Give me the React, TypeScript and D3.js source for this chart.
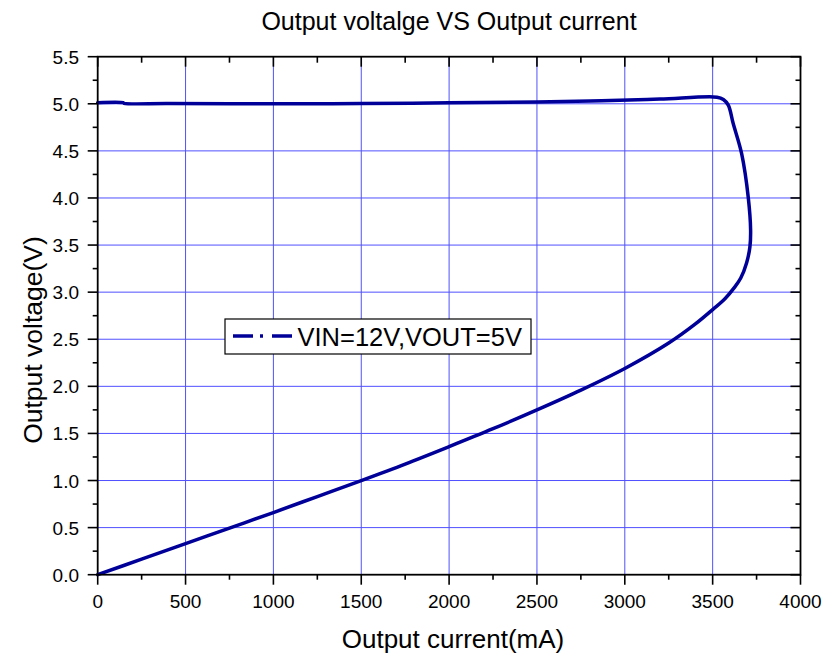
import React from "react";
import * as d3 from "d3";

const title = "Output voltalge VS Output current";
const xLabel = "Output current(mA)";
const yLabel = "Output voltage(V)";
const legendLabel = "VIN=12V,VOUT=5V";

const xTicks = [0, 500, 1000, 1500, 2000, 2500, 3000, 3500, 4000];
const yTicks = [0, 0.5, 1, 1.5, 2, 2.5, 3, 3.5, 4, 4.5, 5, 5.5];

const current = [0, 145, 150, 400, 1000, 1500, 2000, 2500, 2867, 3200, 3525, 3561, 3589, 3617, 3665, 3703, 3716, 3712, 3693, 3660, 3622, 3570, 3503, 3400, 3250, 3000, 2750, 2500, 2250, 2000, 1750, 1500, 1250, 1000, 750, 500, 250, 0];
const voltage = [5.012, 5.012, 5.005, 5.002, 5.0, 5.003, 5.01, 5.02, 5.032, 5.05, 5.07, 5.046, 4.986, 4.79, 4.47, 4.0, 3.66, 3.48, 3.31, 3.15, 3.045, 2.93, 2.82, 2.66, 2.46, 2.19, 1.96, 1.75, 1.55, 1.36, 1.175, 1.0, 0.83, 0.66, 0.495, 0.33, 0.165, 0];

const W = 827, H = 657;
const L = 97.7, R = 800.5, T = 56.7, B = 574.7;
const font = "Arial, 'Liberation Sans', sans-serif";
const gridColor = "#5050ff";
const lineColor = "#000099";

export default function App() {
  const x = d3.scaleLinear().domain([0, 4000]).range([L, R]);
  const y = d3.scaleLinear().domain([0, 5.5]).range([B, T]);
  const pts = current.map((c, i) => [c, voltage[i]] as [number, number]);
  const line = d3.line<[number, number]>().x(d => x(d[0])).y(d => y(d[1])).curve(d3.curveCatmullRom.alpha(0.5));
  const xMinor = d3.range(250, 4000, 500);
  const yMinor = d3.range(0.25, 5.5, 0.5);

  return (
    <svg width={W} height={H} style={{ position: "absolute", left: 0, top: 0, background: "#fff" }}>
      <rect x={0} y={0} width={W} height={H} fill="#fff" />
      {xTicks.slice(1, -1).map(t => (
        <line key={"gx" + t} x1={x(t)} x2={x(t)} y1={T} y2={B} stroke={gridColor} strokeWidth={1} />
      ))}
      {yTicks.slice(1, -1).map(t => (
        <line key={"gy" + t} x1={L} x2={R} y1={y(t)} y2={y(t)} stroke={gridColor} strokeWidth={1} />
      ))}
      <path d={line(pts) || ""} fill="none" stroke={lineColor} strokeWidth={3.5} strokeLinejoin="round" strokeLinecap="round" />
      <rect x={L} y={T} width={R - L} height={B - T} fill="none" stroke="#000" strokeWidth={1.8} />
      {xTicks.map(t => (
        <line key={"bt" + t} x1={x(t)} x2={x(t)} y1={B} y2={B + 10} stroke="#000" strokeWidth={1.6} />
      ))}
      {xMinor.map(t => (
        <line key={"bm" + t} x1={x(t)} x2={x(t)} y1={B} y2={B + 5} stroke="#000" strokeWidth={1.6} />
      ))}
      {xTicks.map(t => (
        <line key={"tt" + t} x1={x(t)} x2={x(t)} y1={T} y2={T + 10} stroke="#000" strokeWidth={1.6} />
      ))}
      {xMinor.map(t => (
        <line key={"tm" + t} x1={x(t)} x2={x(t)} y1={T} y2={T + 6} stroke="#000" strokeWidth={1.6} />
      ))}
      {yTicks.map(t => (
        <line key={"lt" + t} x1={L - 10} x2={L} y1={y(t)} y2={y(t)} stroke="#000" strokeWidth={1.6} />
      ))}
      {yMinor.map(t => (
        <line key={"lm" + t} x1={L - 5} x2={L} y1={y(t)} y2={y(t)} stroke="#000" strokeWidth={1.6} />
      ))}
      {yTicks.map(t => (
        <line key={"rt" + t} x1={R - 10} x2={R} y1={y(t)} y2={y(t)} stroke="#000" strokeWidth={1.6} />
      ))}
      {yMinor.map(t => (
        <line key={"rm" + t} x1={R - 5} x2={R} y1={y(t)} y2={y(t)} stroke="#000" strokeWidth={1.6} />
      ))}
      {xTicks.map(t => (
        <text key={"xl" + t} x={x(t)} y={608} textAnchor="middle" fontFamily={font} fontSize={19} fill="#000">{t}</text>
      ))}
      {yTicks.map(t => (
        <text key={"yl" + t} x={79} y={y(t) + 7} textAnchor="end" fontFamily={font} fontSize={19} fill="#000">{t.toFixed(1)}</text>
      ))}
      <text x={449} y={30} textAnchor="middle" fontFamily={font} fontSize={25} fill="#000">{title}</text>
      <text x={453} y={648} textAnchor="middle" fontFamily={font} fontSize={26} fill="#000">{xLabel}</text>
      <text transform={`translate(42,340) rotate(-90)`} textAnchor="middle" fontFamily={font} fontSize={26.5} fill="#000">{yLabel}</text>
      <rect x={225} y={319} width={306} height={35} fill="#fff" stroke="#000" strokeWidth={1.2} />
      <line x1={233} x2={292} y1={336} y2={336} stroke={lineColor} strokeWidth={3.5} strokeDasharray="20,7,3,9,20" />
      <text x={297.5} y={346} fontFamily={font} fontSize={25.5} fill="#000">{legendLabel}</text>
    </svg>
  );
}
